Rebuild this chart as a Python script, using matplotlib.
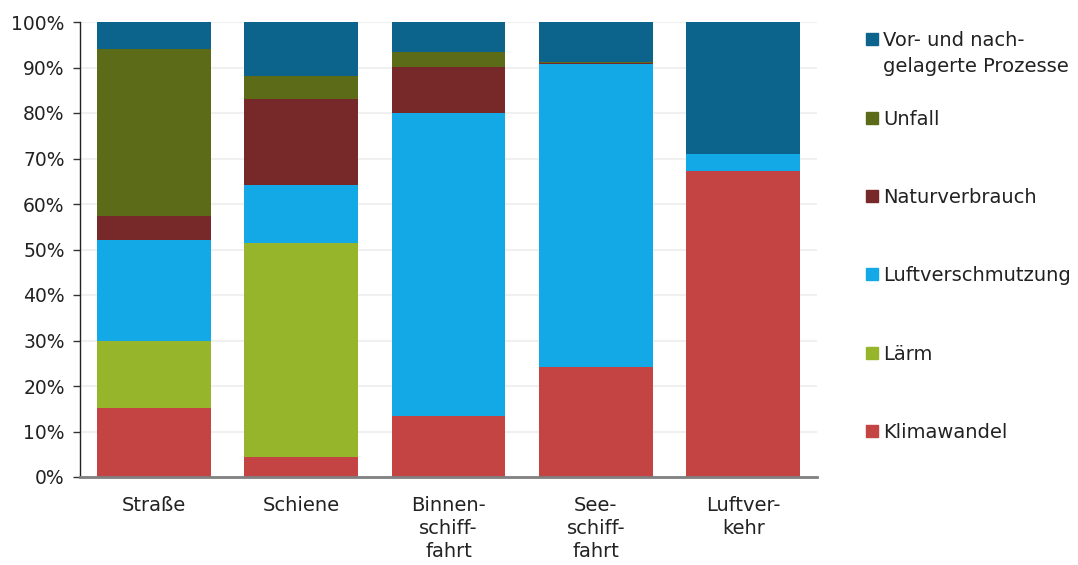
import matplotlib
matplotlib.use("Agg")
import matplotlib.pyplot as plt
from matplotlib.patches import Rectangle
import numpy as np

plt.rcParams['font.family'] = ['DejaVu Sans']

categories = ["Straße", "Schiene", "Binnen-\nschiff-\nfahrt", "See-\nschiff-\nfahrt", "Luftver-\nkehr"]
series_names = ["Klimawandel", "Lärm", "Luftverschmutzung", "Naturverbrauch", "Unfall",
                "Vor- und nach-\ngelagerte Prozesse"]
klimawandel = [15.2, 4.4, 13.5, 24.1, 67.3]
laerm = [14.7, 47.1, 0.0, 0.0, 0.0]
luft = [22.1, 12.6, 66.5, 66.7, 3.6]
natur = [5.4, 18.9, 10.1, 0.1, 0.0]
unfall = [36.7, 5.1, 3.2, 0.2, 0.0]
vor = [5.9, 11.9, 6.7, 8.9, 29.1]
colors = ["#c44343", "#97b52a", "#13a8e6", "#772828", "#5b6b18", "#0c648c"]
yticks = [0, 10, 20, 30, 40, 50, 60, 70, 80, 90, 100]

series = [klimawandel, laerm, luft, natur, unfall, vor]

fig = plt.figure(figsize=(10.78, 5.65), dpi=100)
ax = fig.add_axes([80/1078, 1 - 477/565, (817-80)/1078, (477-22)/565])

x = np.arange(len(categories))
bottom = np.zeros(len(categories))
for vals, col in zip(series, colors):
    ax.bar(x, vals, width=0.773, bottom=bottom, color=col, linewidth=0, zorder=3)
    bottom += np.array(vals)

ax.set_xlim(-0.5, 4.5)
ax.set_ylim(0, 100)
ax.set_yticks(yticks)
ax.set_yticklabels([f"{t}%" for t in yticks], fontsize=13.5, color="#222222")
ax.set_xticks(x)
ax.set_xticklabels(categories, fontsize=14, color="#222222", linespacing=1.29, va="top")
ax.tick_params(axis="x", length=0, pad=13.5)
ax.tick_params(axis="y", length=5, width=1, color="#333333", direction="out", pad=6)
ax.grid(axis="y", color="#f0f0f0", linewidth=1.5, zorder=0)
ax.set_axisbelow(True)
for s in ["top", "right"]:
    ax.spines[s].set_visible(False)
ax.spines["left"].set_color("#222222")
ax.spines["left"].set_linewidth(1)
ax.spines["bottom"].set_color("#808080")
ax.spines["bottom"].set_linewidth(2)
ax.spines["bottom"].set_zorder(4)

# legend (top to bottom: reverse stacking order)
leg_y = [39, 118, 196, 274, 353, 431]
for name, col, yc in zip(series_names[::-1], colors[::-1], leg_y):
    fig.add_artist(Rectangle((866/1078, 1 - (yc + 6)/565), 12/1078, 12/565,
                             transform=fig.transFigure, color=col))
    for i, line in enumerate(name.split("\n")):
        fig.text(883/1078, 1 - (yc + 7 + i * 26)/565, line, fontsize=14,
                 color="#222222", va="baseline", ha="left")

fig.savefig("out.png", dpi=100)
